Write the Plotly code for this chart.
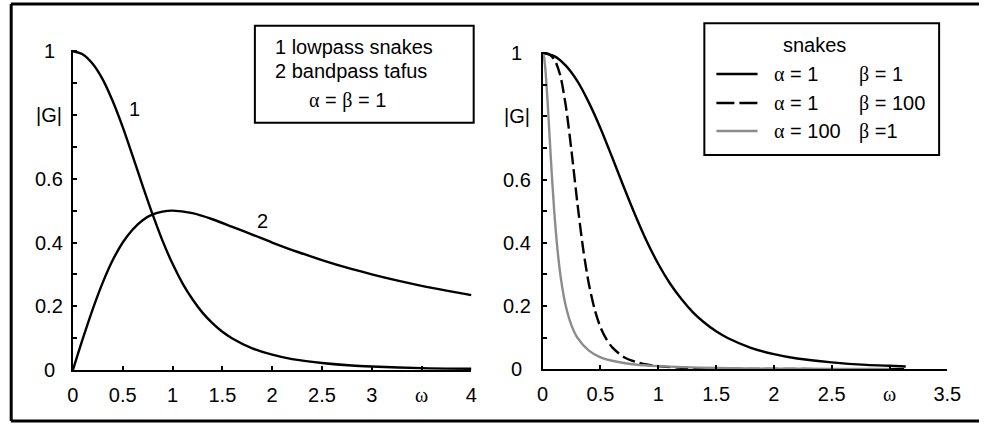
import plotly.graph_objects as go

W, H = 993, 424
FONT = "Liberation Sans, Arial, sans-serif"

# ---------------- data ----------------
# Left panel: curve 1 (lowpass snakes) and curve 2 (bandpass tafus), alpha = beta = 1
w_low = [0, 0.1, 0.2, 0.3, 0.4, 0.5, 0.6, 0.7, 0.8, 0.9, 1.0, 1.1, 1.2, 1.3, 1.4,
         1.5, 1.6, 1.8, 2.0, 2.2, 2.5, 2.8, 3.0, 3.5, 4.0]
g_low = [1.0, 0.990, 0.960, 0.911, 0.843, 0.762, 0.671, 0.578, 0.488, 0.405, 0.333,
         0.272, 0.222, 0.180, 0.147, 0.120, 0.099, 0.068, 0.048, 0.034, 0.022, 0.014,
         0.011, 0.006, 0.004]

w_band = [0, 0.1, 0.2, 0.3, 0.4, 0.5, 0.6, 0.7, 0.8, 0.9, 1.0, 1.2, 1.4, 1.6, 1.8,
          2.0, 2.25, 2.5, 2.75, 3.0, 3.25, 3.5, 3.75, 4.0]
g_band = [0.0, 0.099, 0.192, 0.275, 0.345, 0.400, 0.441, 0.470, 0.488, 0.497, 0.500,
          0.492, 0.473, 0.449, 0.425, 0.400, 0.371, 0.345, 0.321, 0.300, 0.281, 0.264,
          0.249, 0.235]

# Right panel: snakes with different alpha / beta
w_a1b1 = [0, 0.1, 0.2, 0.3, 0.4, 0.5, 0.6, 0.7, 0.8, 0.9, 1.0, 1.1, 1.2, 1.3, 1.4,
          1.5, 1.6, 1.8, 2.0, 2.2, 2.5, 2.8, 3.0, 3.14]
g_a1b1 = [1.0, 0.990, 0.960, 0.911, 0.843, 0.762, 0.671, 0.578, 0.488, 0.405, 0.333,
          0.272, 0.222, 0.180, 0.147, 0.120, 0.099, 0.068, 0.048, 0.034, 0.022, 0.014,
          0.011, 0.009]

w_a1b100 = [0, 0.05, 0.1, 0.15, 0.2, 0.25, 0.3, 0.35, 0.4, 0.45, 0.5, 0.55, 0.6, 0.7,
            0.8, 0.9, 1.0, 1.2, 1.5, 2.0, 2.5, 3.0, 3.14]
g_a1b100 = [1.0, 0.997, 0.980, 0.932, 0.833, 0.688, 0.526, 0.381, 0.269, 0.189, 0.133,
            0.096, 0.070, 0.039, 0.024, 0.015, 0.010, 0.005, 0.002, 0.001, 0.0005,
            0.0002, 0.0001]

w_a100b1 = [0, 0.01, 0.02, 0.03, 0.05, 0.07, 0.1, 0.13, 0.16, 0.2, 0.25, 0.3, 0.4,
            0.5, 0.6, 0.8, 1.0, 1.5, 2.0, 2.5, 3.0]
g_a100b1 = [1.0, 0.990, 0.962, 0.917, 0.800, 0.671, 0.500, 0.372, 0.281, 0.200, 0.138,
            0.100, 0.059, 0.038, 0.027, 0.015, 0.010, 0.004, 0.002, 0.0015, 0.001]

# tick labels
y_tickvals = [0, 0.2, 0.4, 0.6, 0.8, 1.0]
y_ticktext = ["0", "0.2", "0.4", "0.6", "|G|", "1"]
y_minor = [0, 0.1, 0.2, 0.3, 0.4, 0.5, 0.6, 0.7, 0.8, 0.9, 1.0]

OMEGA = "<span style='font-family:Liberation Serif'>ω</span>"
x1_tickvals = [0, 0.5, 1, 1.5, 2, 2.5, 3, 3.5, 4]
x1_ticktext = ["0", "0.5", "1", "1.5", "2", "2.5", "3", OMEGA, "4"]
x2_tickvals = [0, 0.5, 1, 1.5, 2, 2.5, 3, 3.5]
x2_ticktext = ["0", "0.5", "1", "1.5", "2", "2.5", OMEGA, "3.5"]

legend_rows = [("α = 1", "β = 1"), ("α = 1", "β = 100"), ("α = 100", "β =1")]

# ---------------- figure ----------------
def px(x):
    return x / W

def py(y):
    return 1 - y / H

fig = go.Figure()
LW = 2.4
fig.add_trace(go.Scatter(x=w_low, y=g_low, mode="lines", xaxis="x", yaxis="y",
                         line=dict(color="black", width=LW, shape="spline", smoothing=0.8)))
fig.add_trace(go.Scatter(x=w_band, y=g_band, mode="lines", xaxis="x", yaxis="y",
                         line=dict(color="black", width=LW, shape="spline", smoothing=0.8)))
fig.add_trace(go.Scatter(x=w_a1b1, y=g_a1b1, mode="lines", xaxis="x2", yaxis="y2",
                         line=dict(color="black", width=LW, shape="spline", smoothing=0.8)))
fig.add_trace(go.Scatter(x=w_a1b100, y=g_a1b100, mode="lines", xaxis="x2", yaxis="y2",
                         line=dict(color="black", width=LW, dash="13px,5px",
                                   shape="spline", smoothing=0.8)))
fig.add_trace(go.Scatter(x=w_a100b1, y=g_a100b1, mode="lines", xaxis="x2", yaxis="y2",
                         line=dict(color="#8c8c8c", width=LW, shape="spline", smoothing=0.8)))

common_x = dict(showgrid=False, zeroline=False, showline=True, linecolor="black",
                linewidth=2, ticks="inside", ticklen=4, tickwidth=2, tickcolor="black",
                tickfont=dict(family=FONT, size=20, color="black"), ticklabelstandoff=6,
                tickmode="array")
common_y = dict(showgrid=False, zeroline=False, showline=True, linecolor="black",
                linewidth=2, ticks="inside", ticklen=4, tickwidth=2, tickcolor="black",
                showticklabels=False, tickmode="array", tickvals=y_minor, range=[0, 1.004])

fig.update_layout(
    width=W, height=H, autosize=False, margin=dict(l=0, r=0, t=0, b=0),
    paper_bgcolor="white", plot_bgcolor="rgba(0,0,0,0)", showlegend=False,
    font=dict(family=FONT, size=20, color="black"),
    xaxis=dict(domain=[px(68.3), px(475)], range=[0, 4], anchor="y",
               tickvals=x1_tickvals, ticktext=x1_ticktext, **common_x),
    yaxis=dict(domain=[py(370), py(50)], anchor="x", **common_y),
    xaxis2=dict(domain=[px(547.7), px(960.7)], range=[0, 3.5], anchor="y2",
                tickvals=x2_tickvals, ticktext=x2_ticktext, **common_x),
    yaxis2=dict(domain=[py(369.3), py(51.7)], anchor="x2", **common_y),
)

ann = []
# y tick labels, centred beside the axes
for v, t in zip(y_tickvals, y_ticktext):
    ann.append(dict(x=px(44), y=v, xref="paper", yref="y", text=t, showarrow=False,
                    xanchor="center", yanchor="middle", font=dict(size=20)))
    ann.append(dict(x=px(521), y=v, xref="paper", yref="y2", text=t, showarrow=False,
                    xanchor="center", yanchor="middle", font=dict(size=20)))

# curve labels
ann.append(dict(x=0.62, y=0.818, xref="x", yref="y", text="1", showarrow=False,
                font=dict(size=20)))
ann.append(dict(x=1.90, y=0.469, xref="x", yref="y", text="2", showarrow=False,
                font=dict(size=20)))

# left text box
box1 = ["1 lowpass snakes", "2 bandpass tafus"]
for i, t in enumerate(box1):
    ann.append(dict(x=px(272), y=py(46.7 + 24 * i), xref="paper", yref="paper", text=t,
                    showarrow=False, xanchor="left", yanchor="middle", font=dict(size=20)))
ann.append(dict(x=px(307), y=py(100), xref="paper", yref="paper",
                text="<span style='font-family:Liberation Serif'>α</span> = "
                     "<span style='font-family:Liberation Serif'>β</span> = 1",
                showarrow=False, xanchor="left", yanchor="middle", font=dict(size=20)))

# right legend
ann.append(dict(x=px(825.5), y=py(45), xref="paper", yref="paper", text="snakes",
                showarrow=False, xanchor="center", yanchor="middle", font=dict(size=20)))
row_y = [74, 103, 131]
for (a, b), yy in zip(legend_rows, row_y):
    a_html = a.replace("α", "<span style='font-family:Liberation Serif'>α</span>")
    b_html = b.replace("β", "<span style='font-family:Liberation Serif'>β</span>")
    ann.append(dict(x=px(782), y=py(yy), xref="paper", yref="paper", text=a_html,
                    showarrow=False, xanchor="left", yanchor="middle", font=dict(size=20)))
    ann.append(dict(x=px(869), y=py(yy), xref="paper", yref="paper", text=b_html,
                    showarrow=False, xanchor="left", yanchor="middle", font=dict(size=20)))
fig.update_layout(annotations=ann)

shapes = [
    # outer frame
    dict(type="line", xref="paper", yref="paper", x0=px(5), x1=1, y0=py(4), y1=py(4),
         line=dict(color="black", width=3)),
    dict(type="line", xref="paper", yref="paper", x0=px(5), x1=1, y0=py(421), y1=py(421),
         line=dict(color="black", width=3)),
    dict(type="line", xref="paper", yref="paper", x0=px(5.3), x1=px(5.3), y0=py(4), y1=py(421),
         line=dict(color="black", width=3)),
    # left text box
    dict(type="rect", xref="paper", yref="paper", x0=px(254), x1=px(477.3),
         y0=py(122.7), y1=py(25.7), line=dict(color="black", width=2)),
    # right legend box
    dict(type="rect", xref="paper", yref="paper", x0=px(712.7), x1=px(952.3),
         y0=py(155), y1=py(23.3), line=dict(color="black", width=2)),
    # legend keys
    dict(type="line", xref="paper", yref="paper", x0=px(725), x1=px(767), y0=py(74), y1=py(74),
         line=dict(color="black", width=2.4)),
    dict(type="line", xref="paper", yref="paper", x0=px(725), x1=px(767), y0=py(103), y1=py(103),
         line=dict(color="black", width=2.4, dash="18px,5px")),
    dict(type="line", xref="paper", yref="paper", x0=px(725), x1=px(767), y0=py(131), y1=py(131),
         line=dict(color="#8c8c8c", width=2.4)),
]
fig.update_layout(shapes=shapes)

PAGE_JS = (
    "var h=document.documentElement,b=document.body;"
    "[h,b].forEach(function(e){e.style.margin='0';e.style.padding='0';"
    "e.style.overflow='hidden';e.style.width='993px';e.style.height='424px';});"
)

fig.write_html(
    "out.html",
    config={"displayModeBar": False, "responsive": False},
    post_script=PAGE_JS,
)
